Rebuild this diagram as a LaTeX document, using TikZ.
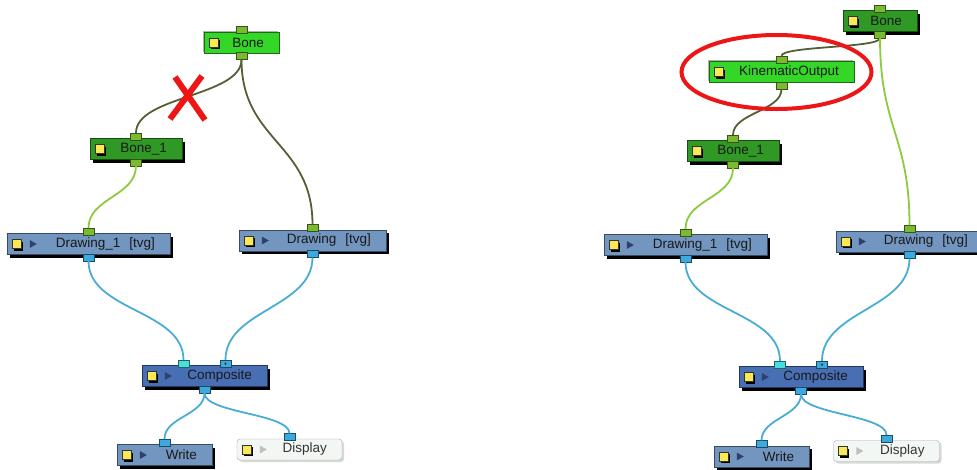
\documentclass[tikz,border=0pt]{standalone}
\usepackage{fontspec}
\setmainfont{Liberation Sans}
\usetikzlibrary{shadows}

\definecolor{hifill}{RGB}{52,214,40}
\definecolor{bonefill}{RGB}{48,152,36}
\definecolor{drawfill}{RGB}{114,150,192}
\definecolor{compfill}{RGB}{72,110,180}
\definecolor{dispfill}{RGB}{242,247,244}
\definecolor{gportc}{RGB}{122,186,48}
\definecolor{bportc}{RGB}{60,170,222}
\definecolor{cportc}{RGB}{70,222,222}
\definecolor{iconyellow}{RGB}{250,232,84}
\definecolor{trinavy}{RGB}{48,64,110}
\definecolor{darkwirec}{RGB}{82,96,52}
\definecolor{greenwirec}{RGB}{140,202,62}
\definecolor{bluewirec}{RGB}{72,172,212}
\definecolor{xred}{RGB}{236,22,22}

\begin{document}
\begin{tikzpicture}[x=1pt, y=-1pt,
    box/.style={minimum height=21pt, inner xsep=15pt, inner ysep=0pt, align=right,
      text=black!90, font=\fontsize{13.5}{16}\selectfont},
    hibox/.style={box, fill=hifill, draw=hifill!50!black,
      drop shadow={shadow xshift=-1.5pt, shadow yshift=1.5pt, fill=black!30, opacity=1}},
    bonebox/.style={box, fill=bonefill, draw=bonefill!50!black,
      drop shadow={shadow xshift=3pt, shadow yshift=-3pt, fill=black, opacity=1}},
    drawbox/.style={box, fill=drawfill, draw=drawfill!50!black,
      drop shadow={shadow xshift=3pt, shadow yshift=-3pt, fill=black, opacity=1}},
    compbox/.style={box, fill=compfill, draw=compfill!50!black,
      drop shadow={shadow xshift=3pt, shadow yshift=-3pt, fill=black, opacity=1}},
    dispbox/.style={box, fill=dispfill, draw=black!35, rounded corners=3pt, text=black!80,
      drop shadow={shadow xshift=2pt, shadow yshift=-2pt, fill=black!15, opacity=1}},
    port/.style={draw=#1!45!black, fill=#1, minimum width=11pt, minimum height=7pt, inner sep=0pt},
    gport/.style={port=gportc},
    bport/.style={port=bportc},
    cport/.style={port=cportc},
    darkwire/.style={draw=darkwirec, line width=1.8pt},
    greenwire/.style={draw=greenwirec, line width=1.8pt},
    bluewire/.style={draw=bluewirec, line width=1.8pt},
    cross/.style={draw=xred, line width=6pt},
    ring/.style={draw=xred, line width=4pt}]
  \useasboundingbox (0,0) rectangle (977,469);

  % left network
  \node[hibox, text width=45pt] (lbone) at (241.5,42.5) {Bone};
  \node[bonebox, text width=62pt] (lbone1) at (136,149) {Bone\_1};
  \node[drawbox, text width=133pt] (ldraw1) at (88.5,244) {Drawing\_1~~[tvg]};
  \node[drawbox, text width=117pt] (ldraw) at (312.5,240.5) {Drawing~~[tvg]};
  \node[compbox, text width=95pt] (lcomp) at (204.5,376) {Composite};
  \node[drawbox, text width=65pt] (lwrite) at (164.5,455) {Write};
  \node[dispbox, text width=75pt] (ldisp) at (289.5,449.5) {Display};

  % right network
  \node[bonebox, text width=44pt] (rbone) at (880,21) {Bone};
  \node[hibox, text width=115pt] (rkin) at (781.5,72) {KinematicOutput};
  \node[bonebox, text width=62pt] (rbone1) at (733,151) {Bone\_1};
  \node[drawbox, text width=133pt] (rdraw1) at (685.5,245) {Drawing\_1~~[tvg]};
  \node[drawbox, text width=117pt] (rdraw) at (909.5,241.5) {Drawing~~[tvg]};
  \node[compbox, text width=94pt] (rcomp) at (801,377) {Composite};
  \node[drawbox, text width=65pt] (rwrite) at (761.5,456.5) {Write};
  \node[dispbox, text width=76pt] (rdisp) at (886.5,451) {Display};

  % ports
  \foreach \n in {lbone,lbone1,rbone,rkin,rbone1} {
    \node[gport, anchor=south, yshift=-2pt] (\n-in) at (\n.north) {};
    \node[gport, anchor=north, yshift=1pt] (\n-out) at (\n.south) {};
  }
  \foreach \n in {ldraw1,ldraw,rdraw1,rdraw} {
    \node[gport, anchor=south, yshift=-2pt] (\n-in) at (\n.north) {};
    \node[bport, anchor=north, yshift=1pt] (\n-out) at (\n.south) {};
  }
  \foreach \n in {lwrite,ldisp,rwrite,rdisp}
    \node[bport, anchor=south, yshift=-2pt] (\n-in) at (\n.north) {};
  \foreach \n in {lcomp,rcomp} {
    \node[cport, anchor=south, xshift=-21pt, yshift=-2pt] (\n-in1) at (\n.north) {};
    \node[bport, anchor=south, xshift=21pt, yshift=-2pt] (\n-in2) at (\n.north) {};
    \node[bport, anchor=north, yshift=1pt] (\n-out) at (\n.south) {};
    \fill[black!80] (\n-in2.center) circle (1.2);
  }

  % node icons
  \foreach \n in {lbone,lbone1,ldraw1,ldraw,lcomp,lwrite,ldisp,rbone,rkin,rbone1,rdraw1,rdraw,rcomp,rwrite,rdisp} {
    \fill[black] ([xshift=7pt, yshift=2.5pt]\n.west) rectangle ++(9,9);
    \draw[black!80, fill=iconyellow] ([xshift=5pt, yshift=4.5pt]\n.west) rectangle ++(9,9);
  }
  \foreach \n in {ldraw1,ldraw,lcomp,lwrite,rdraw1,rdraw,rcomp,rwrite}
    \fill[trinavy] ([xshift=23pt]\n.west) ++(0,-4) -- ++(7,4) -- ++(-7,4) -- cycle;
  \foreach \n in {ldisp,rdisp}
    \fill[black!25] ([xshift=23pt]\n.west) ++(0,-4) -- ++(7,4) -- ++(-7,4) -- cycle;

  % left connectors
  \draw[darkwire] (lbone-out.south) .. controls +(0,37) and +(0,-37) .. (lbone1-in.north);
  \draw[darkwire] (lbone-out.south) .. controls +(0,82) and +(0,-82) .. (ldraw-in.north);
  \draw[greenwire] (lbone1-out.south) .. controls +(0,30) and +(0,-30) .. (ldraw1-in.north);
  \draw[bluewire] (ldraw1-out.south) .. controls +(0,50) and +(0,-50) .. (lcomp-in1.north);
  \draw[bluewire] (ldraw-out.south) .. controls +(0,50) and +(0,-50) .. (lcomp-in2.north);
  \draw[bluewire] (lcomp-out.south) .. controls +(0,22) and +(0,-22) .. (lwrite-in.north);
  \draw[bluewire] (lcomp-out.south) .. controls +(0,20) and +(0,-20) .. (ldisp-in.north);

  % right connectors
  \draw[darkwire] (rbone-out.south) .. controls +(0,10) and +(0,-10) .. (rkin-in.north);
  \draw[darkwire] (rkin-out.south) .. controls +(0,22) and +(0,-22) .. (rbone1-in.north);
  \draw[greenwire] (rbone-out.south) .. controls +(0,90) and +(0,-90) .. (rdraw-in.north);
  \draw[greenwire] (rbone1-out.south) .. controls +(0,30) and +(0,-30) .. (rdraw1-in.north);
  \draw[bluewire] (rdraw1-out.south) .. controls +(0,50) and +(0,-50) .. (rcomp-in1.north);
  \draw[bluewire] (rdraw-out.south) .. controls +(0,50) and +(0,-50) .. (rcomp-in2.north);
  \draw[bluewire] (rcomp-out.south) .. controls +(0,22) and +(0,-22) .. (rwrite-in.north);
  \draw[bluewire] (rcomp-out.south) .. controls +(0,20) and +(0,-20) .. (rdisp-in.north);

  % marks
  \coordinate (cut) at (188,98);
  \draw[cross] ([shift={(-13,-21)}]cut) -- ([shift={(17,22)}]cut);
  \draw[cross] ([shift={(14,-22)}]cut) -- ([shift={(-18,21)}]cut);
  \draw[ring] ([xshift=-5pt]rkin.center) ellipse [x radius=95, y radius=37];
\end{tikzpicture}
\end{document}
